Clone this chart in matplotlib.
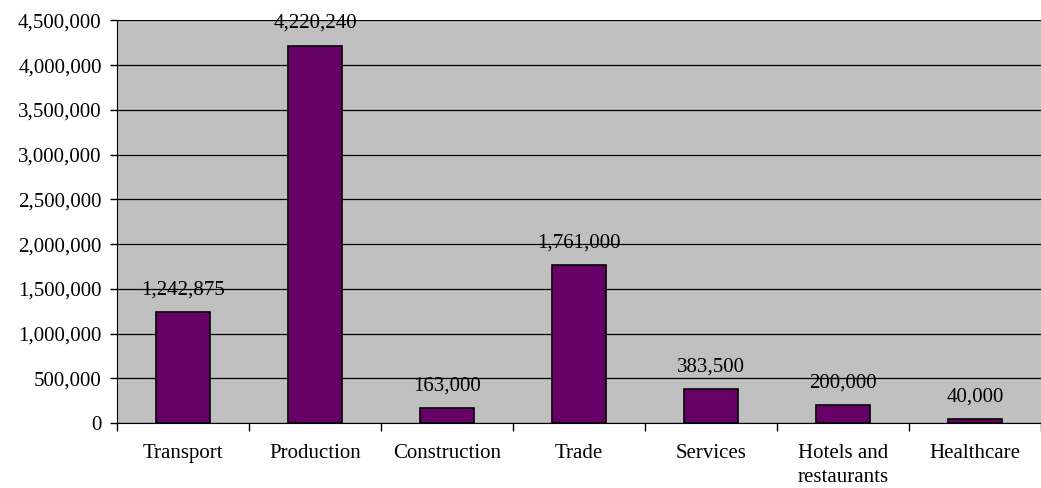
import matplotlib.pyplot as plt
import numpy as np

categories = ["Transport", "Production", "Construction", "Trade", "Services",
              "Hotels and\nrestaurants", "Healthcare"]
values = [1242875, 4220240, 163000, 1761000, 383500, 200000, 40000]
yticks = [0, 500000, 1000000, 1500000, 2000000, 2500000, 3000000, 3500000, 4000000, 4500000]

plt.rcParams['font.family'] = ['Liberation Serif', 'DejaVu Serif']
plt.rcParams['font.size'] = 15

fig = plt.figure(figsize=(10.41, 4.88), dpi=100)
ax = fig.add_axes([0.1124, 0.1332, 0.8876, 0.8248])
ax.set_facecolor("#c0c0c0")

x = np.arange(len(categories))
bars = ax.bar(x, values, width=0.41, color="#660066", edgecolor="black", linewidth=1.2, zorder=3)

# value labels above each bar
for xi, v in zip(x, values):
    ax.annotate(f"{v:,}", (xi, v), xytext=(0, 9), textcoords="offset points",
                ha="center", va="bottom", zorder=4)

ax.set_xlim(-0.5, len(categories) - 0.5)
ax.set_ylim(0, 4500000)
ax.set_yticks(yticks)
ax.set_yticklabels([f"{t:,}" for t in yticks])
ax.yaxis.grid(True, color="black", linewidth=0.9, zorder=1)
ax.set_axisbelow(True)

# category boundaries get the tick marks, labels sit in the middle
ax.set_xticks(np.arange(len(categories) + 1) - 0.5)
ax.set_xticklabels([])
ax.set_xticks(x, minor=True)
ax.set_xticklabels(categories, minor=True, linespacing=1.4)
ax.tick_params(axis="x", which="minor", length=0, pad=15)
ax.tick_params(axis="x", which="major", length=6, direction="out", width=1)
ax.tick_params(axis="y", length=5, direction="out", width=1, pad=6)

for side in ["top", "right"]:
    ax.spines[side].set_visible(False)
ax.spines["left"].set_color("black")
ax.spines["bottom"].set_color("black")

fig.savefig("out.png", dpi=100)
